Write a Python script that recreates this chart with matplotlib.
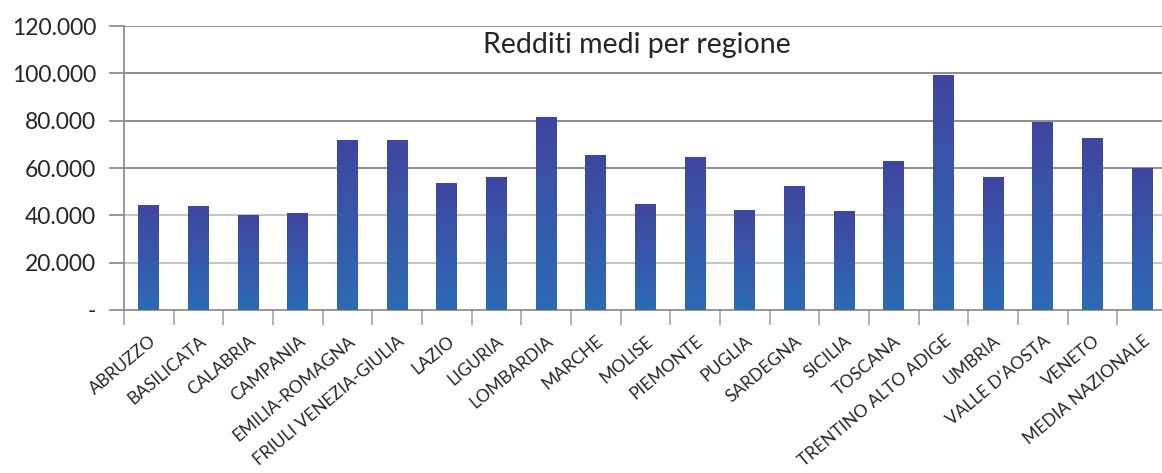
import matplotlib
matplotlib.use('Agg')
import matplotlib.pyplot as plt
import numpy as np
from matplotlib.colors import LinearSegmentedColormap

regioni = ['ABRUZZO', 'BASILICATA', 'CALABRIA', 'CAMPANIA', 'EMILIA-ROMAGNA',
           'FRIULI VENEZIA-GIULIA', 'LAZIO', 'LIGURIA', 'LOMBARDIA', 'MARCHE',
           'MOLISE', 'PIEMONTE', 'PUGLIA', 'SARDEGNA', 'SICILIA', 'TOSCANA',
           'TRENTINO ALTO ADIGE', 'UMBRIA', "VALLE D'AOSTA", 'VENETO',
           'MEDIA NAZIONALE']
redditi = [44300, 43900, 40000, 40800, 71800, 71800, 53500, 56400, 81500, 65400,
           44600, 64600, 42400, 52200, 42000, 62800, 99300, 56000, 79400, 72600,
           60000]
y_ticks = [0, 20000, 40000, 60000, 80000, 100000, 120000]
y_labels = ['-', '20.000', '40.000', '60.000', '80.000', '100.000', '120.000']

plt.rcParams['font.family'] = ['Lato', 'DejaVu Sans']

fig = plt.figure(figsize=(11.62, 4.73), dpi=100)
ax = fig.add_axes([124 / 1162, 1 - 310 / 473, (1167 - 124) / 1162, (310 - 26) / 473])

x = np.arange(len(regioni))
bars = ax.bar(x, redditi, width=0.42, color='none', zorder=3)

# gradiente verticale dentro ogni barra
cmap = LinearSegmentedColormap.from_list('blu', ['#2d6bb5', '#3f46a0'])
grad = np.linspace(0, 1, 256).reshape(-1, 1)
for b in bars:
    x0, w, h = b.get_x(), b.get_width(), b.get_height()
    im = ax.imshow(grad, cmap=cmap, origin='lower', aspect='auto',
                   extent=[x0, x0 + w, 0, h], zorder=3)
    im.set_clip_path(b)

ax.set_xlim(-0.5, len(regioni) - 0.5)
ax.set_ylim(0, 120000)

# griglia orizzontale
for v in y_ticks[1:]:
    c = '#bfbfbf' if v < 60000 else '#868686'
    ax.axhline(v, color=c, lw=1.3, zorder=1)

ax.set_yticks(y_ticks)
ax.set_yticklabels(y_labels, fontsize=16.5, color='#262626')
ax.tick_params(axis='y', length=11, width=1.2, color='#868686', pad=9)

ax.set_xticks(x - 0.5, minor=True)
ax.set_xticks(x)
ax.set_xticklabels(regioni, rotation=40, ha='right', rotation_mode='anchor',
                   fontsize=12.5, color='#262626')
ax.tick_params(axis='x', which='major', length=0, pad=16.5)
ax.tick_params(axis='x', which='minor', length=11, width=1.2, color='#a6a6a6')

for s in ['top', 'right']:
    ax.spines[s].set_visible(False)
ax.spines['left'].set_color('#868686')
ax.spines['bottom'].set_color('#868686')
ax.spines['left'].set_linewidth(1.2)
ax.spines['bottom'].set_linewidth(1.2)

ax.text(0.492, 0.933, 'Redditi medi per regione', transform=ax.transAxes,
        ha='center', va='center', fontsize=20.5, color='#262626')

fig.savefig('out.png', dpi=100)
